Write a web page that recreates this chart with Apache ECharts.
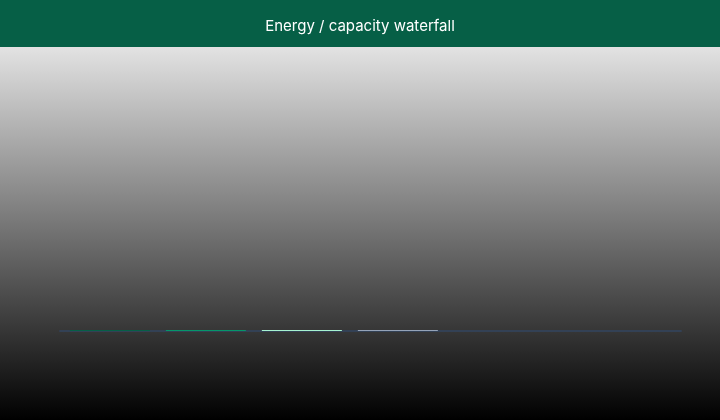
<!DOCTYPE html>
<html>
<head>
<meta charset="utf-8">
<script src="https://cdn.jsdelivr.net/npm/echarts@6/dist/echarts.min.js"></script>
<style>
  html, body { margin: 0; padding: 0; }
  #main { width: 720px; height: 420px; }
</style>
</head>
<body>
<div id="main"></div>
<script>
// waterfall steps (position on the x scale, value)
var stepPos = [0, 1, 2, 3];
var stepNames = ['Start', 'Added', 'Upgrade', 'Losses'];
var stepValues = [1, 1, 1, 1];
var stepColors = ['#065f46', '#059669', '#a7f3d0', '#94a3b8'];

var chart = echarts.init(document.getElementById('main'));

var barData = [];
for (var i = 0; i < stepPos.length; i++) {
	barData.push({
		name: stepNames[i],
		value: [stepPos[i], stepValues[i]],
		itemStyle: { color: stepColors[i] }
	});
}

var option = {
	backgroundColor: {
		type: 'linear', x: 0, y: 0, x2: 0, y2: 1,
		colorStops: [
			{ offset: 0, color: '#ffffff' },
			{ offset: 1, color: '#000000' }
		]
	},
	graphic: [{
		type: 'rect',
		left: 0, top: 0,
		shape: { width: 720, height: 47 },
		style: { fill: '#065f46' },
		z: 10
	}],
	title: {
		text: 'Energy / capacity waterfall',
		left: 'center',
		top: 14,
		textStyle: { color: '#ffffff', fontFamily: 'Inter', fontSize: 15, fontWeight: 'normal' },
		z: 20
	},
	grid: { left: 60, right: 39, top: 70, bottom: 89 },
	xAxis: {
		type: 'value',
		min: -0.52,
		max: 5.95,
		axisLine: { show: true, onZero: false, lineStyle: { color: '#334155', width: 2 } },
		axisTick: { show: false },
		axisLabel: { show: false },
		splitLine: { show: false }
	},
	yAxis: {
		type: 'value',
		min: 0,
		max: 261,
		show: false
	},
	series: [{
		type: 'bar',
		barWidth: 80,
		data: barData
	}]
};

chart.setOption(option);
</script>
</body>
</html>
